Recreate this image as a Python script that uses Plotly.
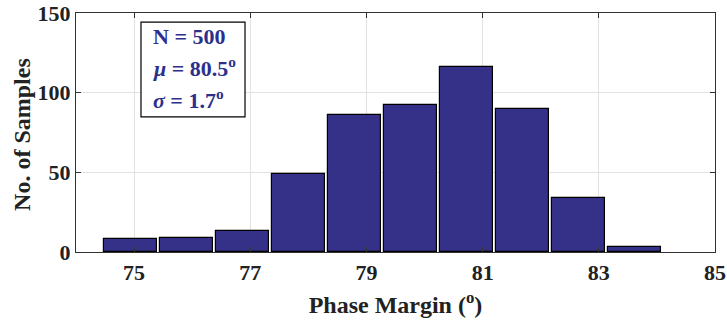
import plotly.graph_objects as go

# Histogram of phase margin over 500 samples
bin_start = 74.45          # left edge of first bin (deg)
bin_width = 0.965          # bin width (deg)
counts = [8, 9, 13, 49, 86, 92, 116, 90, 34, 3]
x_ticks = [75, 77, 79, 81, 83, 85]
y_ticks = [0, 50, 100, 150]
stats_lines = ["N = 500", "<i>μ</i> = 80.5<sup>o</sup>", "<i>σ</i> = 1.7<sup>o</sup>"]

centers = [bin_start + bin_width * (i + 0.5) for i in range(len(counts))]

BAR = "rgb(53,49,137)"
TXT = "rgb(44,48,140)"
FONT = "Liberation Serif"

fig = go.Figure()
fig.add_trace(go.Bar(
    x=centers, y=counts, width=bin_width * 0.95,
    marker=dict(color=BAR, line=dict(color="black", width=1.2)),
    showlegend=False, hoverinfo="x+y",
))

axis_common = dict(
    showline=True, linecolor="#333333", linewidth=1.2, mirror="ticks",
    ticks="inside", ticklen=5, tickcolor="#333333",
    showgrid=True, gridcolor="#e2e2e2", gridwidth=1, zeroline=False,
    automargin=False,
    tickfont=dict(family=FONT, size=22, color="#222222", weight="bold"),
)

fig.update_xaxes(
    range=[74, 85], tickvals=x_ticks,
    title=dict(text="Phase Margin (<sup>o</sup>)",
               font=dict(family=FONT, size=24, color="#222222", weight="bold"),
               standoff=12),
    **axis_common,
)
fig.update_yaxes(range=[0, 150], tickvals=y_ticks, **axis_common)

# y-axis title placed close to the tick labels
fig.add_annotation(text="No. of Samples", xref="paper", yref="paper",
                   x=-0.0845, y=0.49, xanchor="center", yanchor="middle",
                   textangle=-90, showarrow=False,
                   font=dict(family=FONT, size=24, color="#222222", weight="bold"))

# statistics box
fig.add_shape(type="rect", xref="paper", yref="paper",
              x0=0.1017, x1=0.2645, y0=0.565, y1=0.962,
              line=dict(color="black", width=1.2), fillcolor="white", layer="above")
for txt, yp in zip(stats_lines, [0.900, 0.774, 0.640]):
    fig.add_annotation(text=txt, xref="paper", yref="paper", x=0.117, y=yp,
                       xanchor="left", yanchor="middle", showarrow=False,
                       font=dict(family=FONT, size=22, color=TXT, weight="bold"))

fig.update_layout(
    width=727, height=324,
    margin=dict(l=76, r=12, t=13, b=72),
    paper_bgcolor="white", plot_bgcolor="white",
    bargap=0,
)

fig.write_html("out.html")
